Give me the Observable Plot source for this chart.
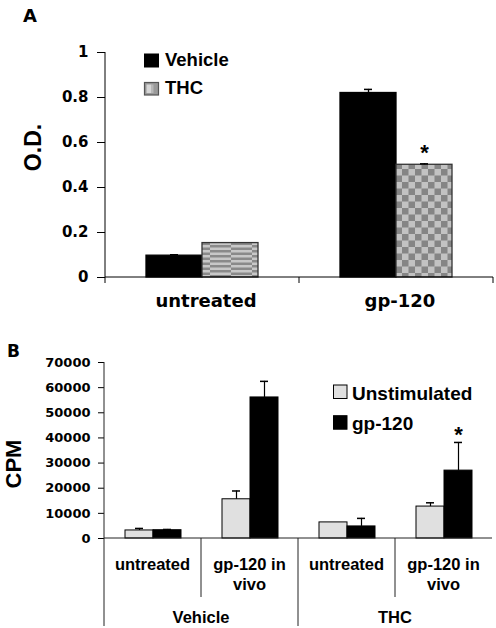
<!DOCTYPE html>
<html>
<head>
<meta charset="utf-8">
<script src="https://cdn.jsdelivr.net/npm/d3@7"></script>
<script src="https://cdn.jsdelivr.net/npm/@observablehq/plot@0.6"></script>
<style>
  html, body { margin: 0; padding: 0; background: #fff; }
  #wrap { width: 496px; height: 628px; overflow: hidden; background: #fff; }
  #wrap svg { display: block; }
</style>
</head>
<body>
<div id="wrap"></div>
<script>
// ---------- Panel A data (O.D.) ----------
const catsA = ["untreated", "gp-120"];
const seriesA = ["Vehicle", "THC"];
const odVehicle = [0.097, 0.820];
const odVehicleErr = [0.004, 0.016];
const odTHC = [0.153, 0.501];
const odTHCErr = [0.0, 0.004];
const sigTHC_A = [false, true];
const yTicksA = [0, 0.2, 0.4, 0.6, 0.8, 1];

// ---------- Panel B data (CPM) ----------
const groupsB = ["Vehicle", "THC"];
const condB = ["untreated", "gp-120 in vivo"];
const seriesB = ["Unstimulated", "gp-120"];
// order: Vehicle-untreated, Vehicle-gp-120 in vivo, THC-untreated, THC-gp-120 in vivo
const cpmUnstim = [3200, 15600, 6400, 12700];
const cpmUnstimErr = [800, 3300, 0, 1500];
const cpmGp = [3300, 56100, 4800, 27000];
const cpmGpErr = [300, 6400, 3200, 11200];
const sigGp_B = [false, false, false, true];
const yTicksB = [0, 10000, 20000, 30000, 40000, 50000, 60000, 70000];

// ---------- styles ----------
const FONT_W = "'DejaVu Sans', Verdana, sans-serif";
const FONT_A = "'Liberation Sans', Arial, Helvetica, sans-serif";
const INK = "#000";

function fillA(d) {
  if (d.series === "Vehicle") return "#000";
  return d.cat === "untreated" ? "url(#stripesA)" : "url(#checkA)";
}
function strokeA(d) { return d.series === "Vehicle" ? "#000" : "#333"; }
const fillB = {"Unstimulated": "#e0e0e0", "gp-120": "#000"};

function txt(g, x, y, s, o = {}) {
  const t = g.append("text")
    .attr("x", x).attr("y", y)
    .attr("font-family", o.family || FONT_A)
    .attr("font-size", o.size || 16)
    .attr("font-weight", "bold")
    .attr("fill", "#000")
    .attr("text-anchor", o.anchor || "start")
    .text(s);
  if (o.baseline) t.attr("dominant-baseline", o.baseline);
  if (o.rotate) t.attr("transform", `rotate(${o.rotate},${x},${y})`);
  return t;
}
function line(g, x1, y1, x2, y2, w = 1, c = INK) {
  g.append("line").attr("x1", x1).attr("y1", y1).attr("x2", x2).attr("y2", y2)
    .attr("stroke", c).attr("stroke-width", w);
}
function bandInfo(scales, keys, dims) {
  const fx = scales.fx;
  const n = keys.length;
  const bw0 = (dims.width - dims.marginLeft - dims.marginRight) / n;
  const left = k => fx ? fx(k) : dims.marginLeft + keys.indexOf(k) * bw0;
  const bw = fx && fx.bandwidth ? fx.bandwidth() : bw0;
  return {left, bw};
}

// ---------- Panel A rows ----------
const rowsA = [];
catsA.forEach((c, i) => {
  rowsA.push({cat: c, series: "Vehicle", v: odVehicle[i], e: odVehicleErr[i], sig: false});
  rowsA.push({cat: c, series: "THC", v: odTHC[i], e: odTHCErr[i], sig: sigTHC_A[i]});
});

const decorA = Plot.frame({
  facet: "super",
  render: (index, scales, values, dims) => {
    const g = d3.create("svg:g");
    const y = scales.y;
    const {left, bw} = bandInfo(scales, catsA, dims);
    const ml = dims.marginLeft, W = dims.width - dims.marginRight;
    const y0 = y(0), yTop = y(yTicksA[yTicksA.length - 1]);
    line(g, ml, yTop, ml, y0 + 6);
    line(g, ml, y0, W, y0);
    catsA.forEach(c => {
      const xr = left(c) + bw;
      line(g, xr, y0, xr, y0 + 6);
      txt(g, left(c) + bw / 2 + 4, y0 + 30, c, {family: FONT_W, size: 18, anchor: "middle"});
    });
    txt(g, 23, 21.7, "A", {family: FONT_W, size: 18});
    txt(g, 33, 147.5, "O.D.", {size: 23, anchor: "middle", baseline: "central", rotate: -90});
    // legend
    seriesA.forEach((s, i) => {
      const sy = 53.5 + i * 29;
      if (i === 0) {
        g.append("rect").attr("x", 144).attr("y", sy).attr("width", 15).attr("height", 14).attr("fill", "#000");
      } else {
        g.append("rect").attr("x", 144.5).attr("y", sy).attr("width", 14).attr("height", 12.5)
          .attr("fill", "#9a9a9a").attr("stroke", "#555").attr("stroke-width", 1.2);
        g.append("rect").attr("x", 146.5).attr("y", sy + 2).attr("width", 5).attr("height", 8.5).attr("fill", "#d6d6d6");
        g.append("rect").attr("x", 151.5).attr("y", sy + 2).attr("width", 2).attr("height", 8.5).attr("fill", "#b8b8b8");
      }
      txt(g, 165, 66 + i * 28.3, s, {size: 18.5});
    });
    return g.node();
  }
});

const svgA = Plot.plot({
  width: 496, height: 320,
  marginTop: 52, marginBottom: 43, marginLeft: 105, marginRight: 3,
  style: {fontFamily: FONT_A, background: "white", color: "black"},
  color: {type: "identity"},
  fx: {domain: catsA, padding: 0, axis: null},
  x: {domain: seriesA, paddingInner: 0, paddingOuter: 0.73, align: 0.5, axis: null},
  y: {domain: [0, 1], axis: null},
  marks: [
    Plot.barY(rowsA, {fx: "cat", x: "series", y: "v", fill: fillA, stroke: strokeA, strokeWidth: 1.3}),
    Plot.ruleX(rowsA.filter(d => d.e > 0), {fx: "cat", x: "series", y1: "v", y2: d => d.v + d.e, stroke: "#000", strokeWidth: 1.3}),
    Plot.tickY(rowsA.filter(d => d.e > 0), {fx: "cat", x: "series", y: d => d.v + d.e, insetLeft: 24, insetRight: 24, stroke: "#000", strokeWidth: 1.5}),
    Plot.text(rowsA.filter(d => d.sig), {fx: "cat", x: "series", y: d => d.v + d.e, text: () => "*", dy: -11, fontSize: 22, fontWeight: "bold", fontFamily: FONT_A, fill: "#000"}),
    Plot.axisY({ticks: yTicksA, tickSize: 8, tickPadding: 9, tickFormat: d3.format("~g"), fontSize: 15, fontFamily: FONT_W, fontWeight: "bold", label: null}),
    decorA
  ]
});

// patterns for panel A
const defsA = d3.select(svgA).insert("defs", ":first-child");
const pc = defsA.append("pattern").attr("id", "checkA").attr("patternUnits", "userSpaceOnUse").attr("width", 13).attr("height", 13);
pc.append("rect").attr("width", 13).attr("height", 13).attr("fill", "#c2c2c2");
pc.append("rect").attr("width", 6.5).attr("height", 6.5).attr("fill", "#858585");
pc.append("rect").attr("x", 6.5).attr("y", 6.5).attr("width", 6.5).attr("height", 6.5).attr("fill", "#858585");
const ps = defsA.append("pattern").attr("id", "stripesA").attr("patternUnits", "userSpaceOnUse").attr("width", 42).attr("height", 5);
ps.append("rect").attr("width", 42).attr("height", 5).attr("fill", "#c8c8c8");
ps.append("rect").attr("x", 0).attr("y", 0).attr("width", 21).attr("height", 2.5).attr("fill", "#8a8a8a");
ps.append("rect").attr("x", 21).attr("y", 2.5).attr("width", 21).attr("height", 2.5).attr("fill", "#8a8a8a");

// ---------- Panel B rows ----------
const keysB = groupsB.flatMap(gp => condB.map(c => `${gp}|${c}`));
const rowsB = [];
keysB.forEach((k, i) => {
  rowsB.push({key: k, series: "Unstimulated", v: cpmUnstim[i], e: cpmUnstimErr[i], sig: false});
  rowsB.push({key: k, series: "gp-120", v: cpmGp[i], e: cpmGpErr[i], sig: sigGp_B[i]});
});

function wrapWords(s, maxChars) {
  const out = []; let cur = "";
  s.split(" ").forEach(w => {
    if (cur && (cur + " " + w).length > maxChars) { out.push(cur); cur = w; }
    else cur = cur ? cur + " " + w : w;
  });
  if (cur) out.push(cur);
  return out;
}

const decorB = Plot.frame({
  facet: "super",
  render: (index, scales, values, dims) => {
    const g = d3.create("svg:g");
    const y = scales.y;
    const {left, bw} = bandInfo(scales, keysB, dims);
    const ml = dims.marginLeft, W = dims.width - dims.marginRight;
    const y0 = y(0), yTop = y(yTicksB[yTicksB.length - 1]);
    const bottom = dims.height - 2;
    line(g, ml, yTop, ml, bottom, 1, "#222");
    line(g, ml, y0, W, y0, 1, "#222");
    keysB.forEach((k, i) => {
      const [grp, cond] = k.split("|");
      if (i > 0) {
        const newGroup = grp !== keysB[i - 1].split("|")[0];
        line(g, left(k), y0, left(k), newGroup ? bottom : y0 + 59, 1, "#222");
      }
      const lines = wrapWords(cond, 9);
      lines.forEach((ln, j) => txt(g, left(k) + bw / 2, y0 + 31.5 + j * 20.3, ln, {size: 16.5, anchor: "middle"}));
    });
    groupsB.forEach(grp => {
      const ks = keysB.filter(k => k.startsWith(grp + "|"));
      const cx = (left(ks[0]) + left(ks[ks.length - 1]) + bw) / 2;
      txt(g, cx, y0 + 84.5, grp, {size: 16.5, anchor: "middle"});
    });
    txt(g, 7, 36.7, "B", {family: FONT_W, size: 17});
    txt(g, 13, 144, "CPM", {size: 22, anchor: "middle", baseline: "central", rotate: -90});
    seriesB.forEach((s, i) => {
      const sy = 65 + i * 30.7;
      g.append("rect").attr("x", 333.5).attr("y", sy).attr("width", 13.5).attr("height", 13.5)
        .attr("fill", fillB[s]).attr("stroke", "#000").attr("stroke-width", 1);
      txt(g, 352, 80 + i * 29.8, s, {size: 19});
    });
    return g.node();
  }
});

const svgB = Plot.plot({
  width: 496, height: 308,
  marginTop: 42, marginBottom: 90, marginLeft: 102, marginRight: 3,
  style: {fontFamily: FONT_A, background: "white", color: "black"},
  color: {type: "identity"},
  fx: {domain: keysB, padding: 0, axis: null},
  x: {domain: seriesB, paddingInner: 0, paddingOuter: 0.715, align: 0.5, axis: null},
  y: {domain: [0, 70000], axis: null},
  marks: [
    Plot.barY(rowsB, {fx: "key", x: "series", y: "v", fill: d => fillB[d.series], stroke: "#000", strokeWidth: 1}),
    Plot.ruleX(rowsB.filter(d => d.e > 0), {fx: "key", x: "series", y1: "v", y2: d => d.v + d.e, stroke: "#000", strokeWidth: 1.2}),
    Plot.tickY(rowsB.filter(d => d.e > 0), {fx: "key", x: "series", y: d => d.v + d.e, insetLeft: 10, insetRight: 10, stroke: "#000", strokeWidth: 1.5}),
    Plot.text(rowsB.filter(d => d.sig), {fx: "key", x: "series", y: d => d.v + d.e, text: () => "*", dy: -7.5, fontSize: 22, fontWeight: "bold", fontFamily: FONT_A, fill: "#000"}),
    Plot.axisY({ticks: yTicksB, tickSize: 6, tickPadding: 8, tickFormat: d3.format("d"), fontSize: 13, fontFamily: FONT_W, fontWeight: "bold", label: null}),
    decorB
  ]
});

document.getElementById("wrap").append(svgA, svgB);
</script>
</body>
</html>
